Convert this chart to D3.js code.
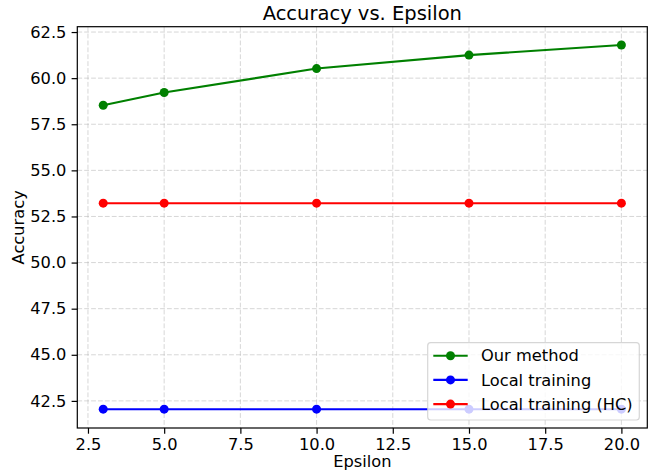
<!DOCTYPE html>
<html>
<head>
<meta charset="utf-8">
<script src="https://cdn.jsdelivr.net/npm/d3@7"></script>
<style>
  body { margin: 0; background: #fff; }
  svg { display: block; font-family: "DejaVu Sans", sans-serif; }
</style>
</head>
<body>
<div id="chart-area"></div>
<script>
// values
const epsilons = [3, 5, 10, 15, 20];
const ourMethod = [58.53, 59.22, 60.52, 61.25, 61.8];
const localTraining = [42.05, 42.05, 42.05, 42.05, 42.05];
const localTrainingHC = [53.22, 53.22, 53.22, 53.22, 53.22];
const seriesNames = ["Our method", "Local training", "Local training (HC)"];
const seriesColors = ["green", "blue", "red"];
const xTicks = [2.5, 5.0, 7.5, 10.0, 12.5, 15.0, 17.5, 20.0];
const yTicks = [42.5, 45.0, 47.5, 50.0, 52.5, 55.0, 57.5, 60.0, 62.5];

const width = 658, height = 473;
const margin = { top: 26.7, right: 10.7, bottom: 45, left: 77.3 };
const fs = 16.25; // 10pt at the figure's dpi

const svg = d3.select("#chart-area").append("svg")
    .attr("width", width)
    .attr("height", height);

const x = d3.scaleLinear().domain([2.15, 20.85]).range([margin.left, width - margin.right]);
const y = d3.scaleLinear().domain([41.03, 62.79]).range([height - margin.bottom, margin.top]);

const plotW = width - margin.left - margin.right;
const plotH = height - margin.top - margin.bottom;

// grid
const grid = svg.append("g")
    .attr("stroke", "#b0b0b0")
    .attr("stroke-opacity", 0.5)
    .attr("stroke-width", 1)
    .attr("stroke-dasharray", "4.8,2.1");
grid.selectAll(".gx").data(xTicks).enter().append("line")
    .attr("x1", d => x(d)).attr("x2", d => x(d))
    .attr("y1", margin.top).attr("y2", height - margin.bottom);
grid.selectAll(".gy").data(yTicks).enter().append("line")
    .attr("y1", d => y(d)).attr("y2", d => y(d))
    .attr("x1", margin.left).attr("x2", width - margin.right);

// axes
const xAxis = svg.append("g")
    .attr("transform", `translate(0,${height - margin.bottom})`)
    .call(d3.axisBottom(x).tickValues(xTicks).tickFormat(d3.format(".1f")).tickSize(5.7).tickPadding(5.2));
const yAxis = svg.append("g")
    .attr("transform", `translate(${margin.left},0)`)
    .call(d3.axisLeft(y).tickValues(yTicks).tickFormat(d3.format(".1f")).tickSize(5.7).tickPadding(5.2));

[xAxis, yAxis].forEach(a => {
  a.select(".domain").remove();
  a.selectAll(".tick line").attr("stroke", "#000").attr("stroke-width", 1.2);
  a.selectAll(".tick text")
    .attr("font-family", "DejaVu Sans")
    .attr("font-size", fs)
    .attr("fill", "#000");
});

// series
const series = [ourMethod, localTraining, localTrainingHC];
const line = d3.line().x((d, i) => x(epsilons[i])).y(d => y(d));

series.forEach((vals, k) => {
  svg.append("path")
    .datum(vals)
    .attr("fill", "none")
    .attr("stroke", seriesColors[k])
    .attr("stroke-width", 2.1)
    .attr("d", line);
  svg.selectAll(".pt" + k).data(vals).enter().append("circle")
    .attr("cx", (d, i) => x(epsilons[i]))
    .attr("cy", d => y(d))
    .attr("r", 4.5)
    .attr("fill", seriesColors[k]);
});

// spines
svg.append("rect")
    .attr("x", margin.left).attr("y", margin.top)
    .attr("width", plotW).attr("height", plotH)
    .attr("fill", "none")
    .attr("stroke", "#000")
    .attr("stroke-width", 1.2);

// titles
svg.append("text")
    .attr("x", margin.left + plotW / 2).attr("y", 20)
    .attr("text-anchor", "middle")
    .attr("font-size", 19.5)
    .attr("fill", "#000")
    .text("Accuracy vs. Epsilon");
svg.append("text")
    .attr("x", margin.left + plotW / 2).attr("y", 467)
    .attr("text-anchor", "middle")
    .attr("font-size", fs)
    .attr("fill", "#000")
    .text("Epsilon");
svg.append("text")
    .attr("transform", `translate(24,${margin.top + plotH / 2}) rotate(-90)`)
    .attr("text-anchor", "middle")
    .attr("font-size", fs)
    .attr("fill", "#000")
    .text("Accuracy");

// legend
const legend = svg.append("g");
legend.append("rect")
    .attr("x", 427.7).attr("y", 342.7)
    .attr("width", 211.6).attr("height", 77.3)
    .attr("rx", 3)
    .attr("fill", "#fff").attr("fill-opacity", 0.8)
    .attr("stroke", "#cccccc").attr("stroke-opacity", 0.8).attr("stroke-width", 1.2);
const rows = legend.selectAll(".row").data(seriesNames).enter().append("g")
    .attr("transform", (d, i) => `translate(0,${355.7 + i * 24.2})`);
rows.append("line")
    .attr("x1", 433.3).attr("x2", 467.7)
    .attr("stroke", (d, i) => seriesColors[i])
    .attr("stroke-width", 2.1);
rows.append("circle")
    .attr("cx", 450.5).attr("r", 4.5)
    .attr("fill", (d, i) => seriesColors[i]);
rows.append("text")
    .attr("x", 481).attr("dy", "0.35em")
    .attr("font-size", fs)
    .attr("fill", "#000")
    .text(d => d);
</script>
</body>
</html>
